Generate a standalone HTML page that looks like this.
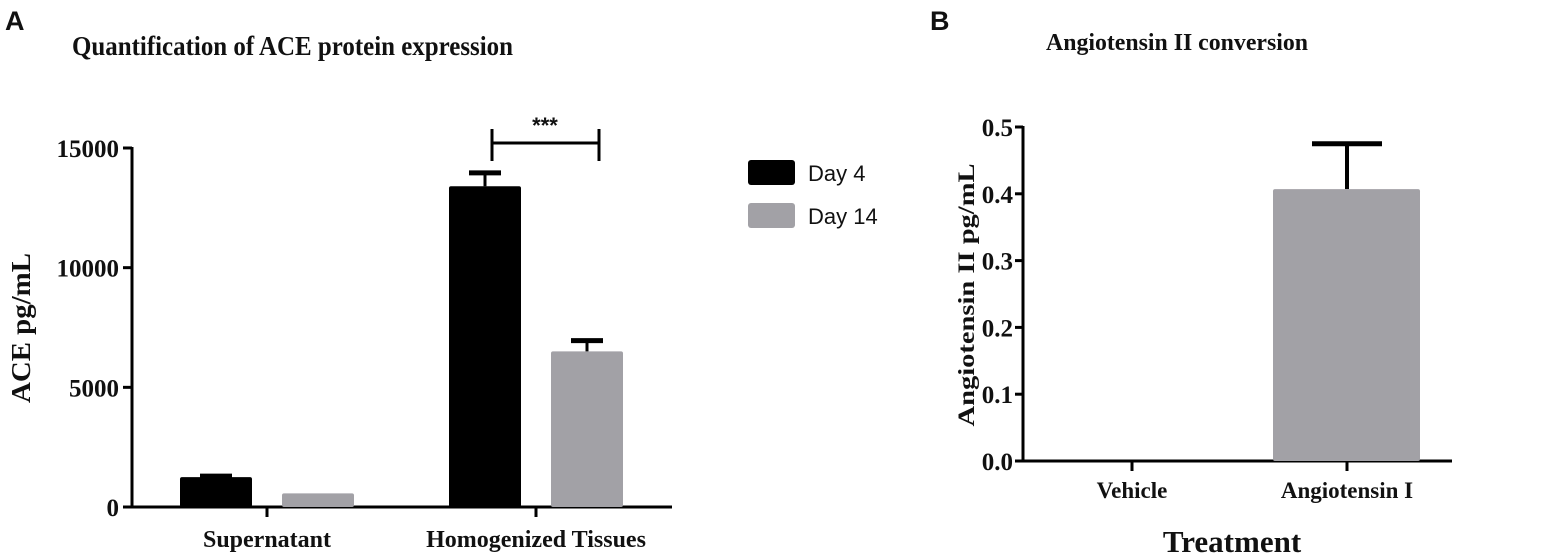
<!DOCTYPE html>
<html><head><meta charset="utf-8"><style>
html,body{margin:0;padding:0;background:#fff;}
svg{display:block;}
text{font-family:"Liberation Serif",serif;font-weight:bold;fill:#111;}
</style></head><body>
<svg id="fig" width="1548" height="559" viewBox="0 0 1548 559" xmlns="http://www.w3.org/2000/svg">
<text x="5" y="30" style="font-family:'Liberation Sans',sans-serif;font-size:27px">A</text>
<text x="72" y="55" font-size="27" textLength="441" lengthAdjust="spacingAndGlyphs">Quantification of  ACE protein expression</text>
<text x="930" y="30" style="font-family:'Liberation Sans',sans-serif;font-size:27px">B</text>
<text x="1177" y="50" font-size="24" text-anchor="middle" textLength="262" lengthAdjust="spacingAndGlyphs">Angiotensin II conversion</text>
<g id="chartA"></g>
<g id="chartB"></g>
<g>
<rect x="748" y="160" width="47" height="25" rx="3" fill="#000"/>
<text x="808" y="181" font-size="22" style="font-family:'Liberation Sans',sans-serif;font-weight:normal">Day 4</text>
<rect x="748" y="203" width="47" height="25" rx="3" fill="#a2a1a6"/>
<text x="808" y="224" font-size="22" style="font-family:'Liberation Sans',sans-serif;font-weight:normal">Day 14</text>
</g>
</svg>
<script>
const NS="http://www.w3.org/2000/svg";
// Panel A data
const catsA=["Supernatant","Homogenized Tissues"];
const day4=[1250,13400];
const day4Err=[40,560];
const day14=[570,6500];
const day14Err=[0,450];
const ticksA=[0,5000,10000,15000];
// Panel B data
const catsB=["Vehicle","Angiotensin I"];
const valsB=[0,0.407];
const errB=[0,0.068];
const ticksB=[0,0.1,0.2,0.3,0.4,0.5];

function mk(parent,tag,attrs,txt){const e=document.createElementNS(NS,tag);for(const k in attrs)e.setAttribute(k,attrs[k]);if(txt!==undefined)e.textContent=txt;parent.appendChild(e);return e;}

// Panel A
const gA=document.getElementById('chartA');
const yA=v=>507-(v/15000)*359;
const ax0=132, ax1=672;
const catX=[267,536];
let e;
e=mk(gA,'line',{x1:ax0,y1:yA(15000)-1,x2:ax0,y2:508,stroke:'#000','stroke-width':3});


e=mk(gA,'line',{x1:ax0-8,y1:507,x2:ax1,y2:507,stroke:'#000','stroke-width':3});


ticksA.forEach(t=>{
  e=mk(gA,'line',{x1:ax0-9,y1:yA(t),x2:ax0,y2:yA(t),stroke:'#000','stroke-width':3});
  
  
  e=mk(gA,'text',{x:ax0-13,y:yA(t)+9,'text-anchor':'end','font-size':25},String(t));
  
  
});
catsA.forEach((c,i)=>{
  e=mk(gA,'line',{x1:catX[i],y1:507,x2:catX[i],y2:517,stroke:'#000','stroke-width':3});
  
  
  e=mk(gA,'text',{x:catX[i],y:547,'text-anchor':'middle','font-size':24},c);
  
  
  const bw=72;
  [[day4,day4Err,-87,'#000','bar-day4'],[day14,day14Err,15,'#a2a1a6','bar-day14']].forEach(s=>{
    const v=s[0][i], er=s[1][i], x=catX[i]+s[2];
    if(er>0){
      e=mk(gA,'line',{x1:x+bw/2,y1:yA(v),x2:x+bw/2,y2:yA(v+er),stroke:'#000','stroke-width':3});
      
      
      e=mk(gA,'line',{x1:x+bw/2-16,y1:yA(v+er),x2:x+bw/2+16,y2:yA(v+er),stroke:'#000','stroke-width':5});
      
      
    }
    e=mk(gA,'rect',{x:x,y:yA(v),width:bw,height:507-yA(v),fill:s[3],rx:2});
    
    
  });
});
e=mk(gA,'text',{x:-328,y:30,transform:'rotate(-90)','text-anchor':'middle','font-size':27,textLength:150,lengthAdjust:'spacingAndGlyphs'},'ACE pg/mL');


e=mk(gA,'path',{d:'M492,129 V161 M492,143 H599 M599,129 V161',stroke:'#000','stroke-width':3,fill:'none'});


e=mk(gA,'text',{x:545,y:133,'text-anchor':'middle','font-size':22,style:"font-family:'Liberation Sans',sans-serif"},'***');



// Panel B
const gB=document.getElementById('chartB');
const yB=v=>461-(v/0.5)*334;
const bx0=1023,bx1=1452;
const catXB=[1132,1347];
e=mk(gB,'line',{x1:bx0,y1:yB(0.5)-1,x2:bx0,y2:462,stroke:'#000','stroke-width':3});


e=mk(gB,'line',{x1:bx0-8,y1:461,x2:bx1,y2:461,stroke:'#000','stroke-width':3});


ticksB.forEach(t=>{
  e=mk(gB,'line',{x1:bx0-8,y1:yB(t),x2:bx0,y2:yB(t),stroke:'#000','stroke-width':3});
  
  
  e=mk(gB,'text',{x:bx0-10,y:yB(t)+9,'text-anchor':'end','font-size':25},t.toFixed(1));
  
  
});
catsB.forEach((c,i)=>{
  e=mk(gB,'line',{x1:catXB[i],y1:461,x2:catXB[i],y2:471,stroke:'#000','stroke-width':3});
  
  
  e=mk(gB,'text',{x:catXB[i],y:498,'text-anchor':'middle','font-size':23},c);
  
  
  const v=valsB[i],er=errB[i],bw=147,x=catXB[i]-74;
  if(er>0){
    e=mk(gB,'line',{x1:catXB[i],y1:yB(v),x2:catXB[i],y2:yB(v+er),stroke:'#000','stroke-width':4});
    
    
    e=mk(gB,'line',{x1:catXB[i]-35,y1:yB(v+er),x2:catXB[i]+35,y2:yB(v+er),stroke:'#000','stroke-width':5});
    
    
  }
  if(v>0){
    e=mk(gB,'rect',{x:x,y:yB(v),width:bw,height:461-yB(v),fill:'#a2a1a6',rx:2});
    
    
  }
});
e=mk(gB,'text',{x:-295,y:974,transform:'rotate(-90)','text-anchor':'middle','font-size':23,textLength:263,lengthAdjust:'spacingAndGlyphs'},'Angiotensin II pg/mL');


e=mk(gB,'text',{x:1232,y:552,'text-anchor':'middle','font-size':31},'Treatment');


</script>
</body></html>
